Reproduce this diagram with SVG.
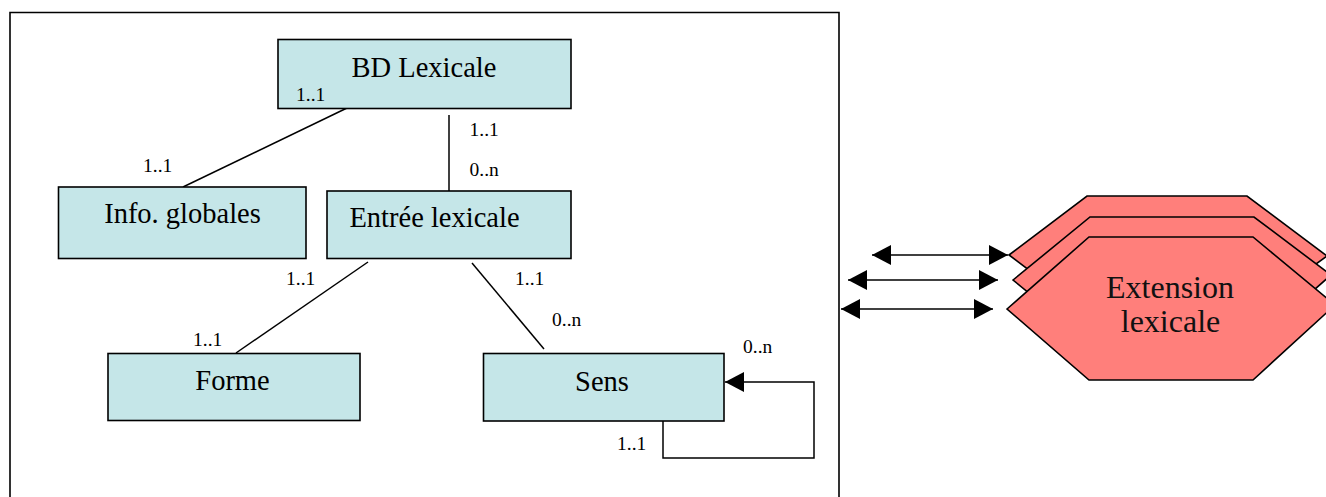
<svg xmlns="http://www.w3.org/2000/svg" width="1326" height="497" viewBox="0 0 1326 497">
  <style>
    .box { fill: #C5E6E8; stroke: #000; stroke-width: 1.6; }
    .hex { fill: #FF7F7B; stroke: #000; stroke-width: 1.6; }
    .lbl { font-family: "Liberation Serif", "Times New Roman", serif; font-size: 28.5px; fill: #000; text-anchor: middle; }
    .hexlbl { font-family: "Liberation Serif", "Times New Roman", serif; font-size: 32px; fill: #111; text-anchor: middle; }
    .card { font-family: "Liberation Serif", "Times New Roman", serif; font-size: 19.5px; fill: #000; }
    .conn { fill: none; stroke: #000; stroke-width: 1.5; }
  </style>
  <defs>
    <marker id="arrow" markerUnits="userSpaceOnUse" markerWidth="20" markerHeight="22" refX="19" refY="10" orient="auto-start-reverse">
      <path d="M0,0 L19,10 L0,20 Z" fill="#000"/>
    </marker>
  </defs>

  <rect x="0" y="0" width="1326" height="497" fill="#fff"/>

  <g id="frame">
    <path d="M10,500 V12.5 H839 V500" fill="none" stroke="#000" stroke-width="1.6"/>
  </g>

  <g id="connectors">
    <line class="conn" x1="347" y1="108" x2="183" y2="187"/>
    <line class="conn" x1="449" y1="115" x2="449" y2="191"/>
    <line class="conn" x1="368" y1="262" x2="236" y2="353"/>
    <line class="conn" x1="472" y1="263" x2="544" y2="349"/>
    <path class="conn" d="M663,416 V458 H814 V382 H725" marker-end="url(#arrow)"/>
    <line class="conn" x1="872" y1="255" x2="1008" y2="255" marker-start="url(#arrow)" marker-end="url(#arrow)"/>
    <line class="conn" x1="848" y1="280" x2="998" y2="280" marker-start="url(#arrow)" marker-end="url(#arrow)"/>
    <line class="conn" x1="841" y1="309" x2="993" y2="309" marker-start="url(#arrow)" marker-end="url(#arrow)"/>
  </g>

  <g id="cardinalities">
    <text class="card" x="143" y="172">1..1</text>
    <text class="card" x="469.5" y="136">1..1</text>
    <text class="card" x="469.5" y="176">0..n</text>
    <text class="card" x="286" y="285">1..1</text>
    <text class="card" x="515" y="285">1..1</text>
    <text class="card" x="552" y="326">0..n</text>
    <text class="card" x="193" y="346">1..1</text>
    <text class="card" x="743" y="353">0..n</text>
    <text class="card" x="617" y="450">1..1</text>
  </g>

  <g id="bd-lexicale">
    <rect class="box" x="278" y="39.5" width="293" height="69"/>
    <text class="lbl" x="424" y="77">BD Lexicale</text>
    <text class="card" x="296" y="101">1..1</text>
  </g>

  <g id="info-globales">
    <rect class="box" x="58.5" y="187" width="247.5" height="71.5"/>
    <text class="lbl" x="182.5" y="223">Info. globales</text>
  </g>

  <g id="entree-lexicale">
    <rect class="box" x="327" y="191" width="244" height="67.5"/>
    <text class="lbl" x="434.5" y="227">Entrée lexicale</text>
  </g>

  <g id="forme">
    <rect class="box" x="108" y="353.5" width="252" height="67"/>
    <text class="lbl" x="232.5" y="390">Forme</text>
  </g>

  <g id="sens">
    <rect class="box" x="483.5" y="353.5" width="240.5" height="67.5"/>
    <text class="lbl" x="602" y="391">Sens</text>
  </g>

  <g id="extension-lexicale">
    <polygon class="hex" points="1009,255 1087,196 1247,196 1327,256 1247,314 1087,314"/>
    <polygon class="hex" points="1013,280 1090,217 1254,217 1331,275 1254,343 1090,343"/>
    <polygon class="hex" points="1007,309 1089,237 1253,237 1335,305 1253,380 1089,380"/>
    <text class="hexlbl" x="1170" y="298">Extension</text>
    <text class="hexlbl" x="1170.5" y="332">lexicale</text>
  </g>
</svg>
